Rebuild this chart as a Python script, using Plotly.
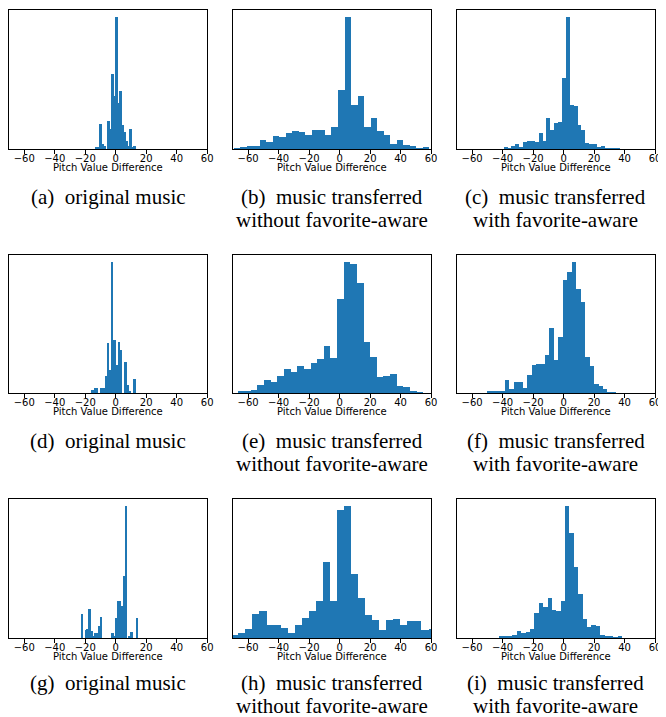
import plotly.graph_objects as go

# page body has an 8px margin; the figure is sized/positioned to compensate
PAGE_OFF = 8
W, H = 666 - PAGE_OFF, 717 - PAGE_OFF

# ---- data: histogram bins (start, width) and relative counts per panel ----
A_START, A_WIDTH = -13.0, 1.3
A_COUNTS = [1, 1, 19, 4, 2.5, 0, 21, 15, 57, 40, 100, 35, 44, 18, 12.6, 6, 2.5, 15, 1, 2.5]

B_START, B_WIDTH = -69.6, 4.28
B_COUNTS = [0.5, 1, 2.5, 2.5, 7, 5.5, 10, 9.3, 12.3, 13.9, 13.1, 10.8, 14.6, 14.6, 10.8,
            16.9, 44.8, 100, 33.5, 40, 16.9, 23.7, 13.9, 10.8, 4, 7, 3.3, 2.5, 0.5, 1.3]

C_START, C_WIDTH = -39.4, 2.55
C_COUNTS = [1, 0.5, 2, 4, 1.8, 5.5, 6.3, 6.3, 5.5, 12, 6.3, 23.7, 14.6, 19.6, 20.7,
            54, 100, 33.5, 32.7, 18.1, 14.6, 4.5, 4, 4, 1, 2, 0.5, 0.3, 0.3, 0.3]

D_START, D_WIDTH = -16.0, 1.45
D_COUNTS = [2.5, 4, 4, 0, 4, 4, 12.6, 38, 17.6, 100, 40.7, 21.4, 39, 32.7, 0, 23.6, 6.3, 1.3, 0, 11]

E_START, E_WIDTH = -67.0, 4.35
E_COUNTS = [1, 1, 2.5, 6.3, 10, 8, 13, 18.6, 16, 20.9, 18.6, 23.1, 25.9, 35.7, 26.9,
            71.4, 100, 98.5, 83.4, 38.7, 27.4, 11.8, 13, 14.3, 5, 4.3, 1, 0.3, 0, 0]

F_START, F_WIDTH = -50.3, 2.925
F_COUNTS = [0.8, 1.8, 1.3, 1.8, 10, 3.3, 8.5, 8, 4, 13.6, 21.4, 22.1, 22.1, 28.9, 49.2,
            25.1, 42.5, 86.2, 92.2, 100, 79.4, 69.1, 27.4, 20.6, 6.8, 5, 3.3, 0.3, 0.3]

G_START, G_WIDTH = -22.6, 1.25
G_COUNTS = [18.4, 0, 6.3, 7, 22.2, 5.5, 1.8, 4, 4, 9.3, 16.1, 0, 0, 0, 0, 0, 4, 1.8,
            15.4, 28.2, 28.2, 24.4, 47.1, 100, 0, 1.8, 4.8, 0, 0, 15.4]

H_START, H_WIDTH = -71.1, 4.62
H_COUNTS = [2.3, 4, 7, 18.4, 20.7, 10, 10, 7.8, 4, 10, 15.4, 20.7, 28.2, 57.7, 28.2,
            97, 100, 48.6, 30.5, 17.6, 13.9, 6.3, 13.9, 14.6, 10, 13.1, 13.1, 6.3, 7, 3]

I_START, I_WIDTH = -42.3, 2.88
I_COUNTS = [0.8, 0.8, 0.8, 2.5, 5.5, 3.5, 4.3, 7, 19.1, 26.7, 23.7, 30.5, 21.4, 20.7,
            28.2, 100, 79.6, 53.9, 33.5, 14.6, 8.6, 9.6, 9.3, 2.5, 1.8, 0.8, 0.3, 1]

SP = "\u2002"
CAPTIONS = [
    ["(a)" + SP + "original music"],
    ["(b)" + SP + "music transferred", "without favorite-aware"],
    ["(c)" + SP + "music transferred", "with favorite-aware"],
    ["(d)" + SP + "original music"],
    ["(e)" + SP + "music transferred", "without favorite-aware"],
    ["(f)" + SP + "music transferred", "with favorite-aware"],
    ["(g)" + SP + "original music"],
    ["(h)" + SP + "music transferred", "without favorite-aware"],
    ["(i)" + SP + "music transferred", "with favorite-aware"],
]
X_LABEL = "Pitch Value Difference"
TICK_VALS = [-60, -40, -20, 0, 20, 40, 60]
TICK_TEXT = ["\u221260", "\u221240", "\u221220", "0", "20", "40", "60"]

PANELS = [
    (A_START, A_WIDTH, A_COUNTS), (B_START, B_WIDTH, B_COUNTS), (C_START, C_WIDTH, C_COUNTS),
    (D_START, D_WIDTH, D_COUNTS), (E_START, E_WIDTH, E_COUNTS), (F_START, F_WIDTH, F_COUNTS),
    (G_START, G_WIDTH, G_COUNTS), (H_START, H_WIDTH, H_COUNTS), (I_START, I_WIDTH, I_COUNTS),
]

# ---- layout geometry (pixels in the reference window) ----
COL_X0 = [9, 235, 461]
PLOT_W = 200
ROW_Y = [(10, 149), (255, 393), (499, 638)]
XTITLE_OFF = 18.5
CAP_OFF = [[48, 71], [48, 71], [45, 68]]

BLUE = "#1f77b4"


def px(v):
    return v - PAGE_OFF


fig = go.Figure()
layout = dict(
    width=W, height=H, margin=dict(l=0, r=0, t=0, b=0),
    paper_bgcolor="white", plot_bgcolor="white", showlegend=False,
    bargap=0, annotations=[],
)

for idx, (start, width, counts) in enumerate(PANELS):
    r, c = divmod(idx, 3)
    n = idx + 1
    xa = "x" if n == 1 else f"x{n}"
    ya = "y" if n == 1 else f"y{n}"
    centers = [start + width * (k + 0.5) for k in range(len(counts))]
    fig.add_trace(go.Bar(
        x=centers, y=counts, width=[width] * len(counts),
        marker=dict(color=BLUE, line=dict(width=0)),
        xaxis=xa, yaxis=ya, hoverinfo="skip",
    ))
    x0 = px(COL_X0[c])
    top, bot = px(ROW_Y[r][0]), px(ROW_Y[r][1])
    ymax = max(counts) * 1.05
    layout["xaxis" if n == 1 else f"xaxis{n}"] = dict(
        domain=[x0 / W, (x0 + PLOT_W) / W], range=[-70, 60], anchor=ya,
        showgrid=False, zeroline=False, showline=True, mirror=True,
        linecolor="black", linewidth=1,
        ticks="outside", ticklen=3.5, tickwidth=0.8, tickcolor="black",
        tickvals=TICK_VALS, ticktext=TICK_TEXT, ticklabelstandoff=-4,
        tickfont=dict(family="DejaVu Sans", size=10, color="black"),
    )
    layout["yaxis" if n == 1 else f"yaxis{n}"] = dict(
        domain=[1 - bot / H, 1 - top / H], range=[0, ymax], anchor=xa,
        showgrid=False, zeroline=False, showline=True, mirror=True,
        linecolor="black", linewidth=1, showticklabels=False, ticks="",
    )
    cx = (x0 + PLOT_W / 2) / W
    layout["annotations"].append(dict(
        text=X_LABEL, x=cx, y=1 - (bot + XTITLE_OFF) / H, xref="paper", yref="paper",
        showarrow=False, xanchor="center", yanchor="middle",
        font=dict(family="DejaVu Sans", size=10, color="black"),
    ))
    for li, line in enumerate(CAPTIONS[idx]):
        layout["annotations"].append(dict(
            text=line, x=cx, y=1 - (bot + CAP_OFF[r][li]) / H, xref="paper", yref="paper",
            showarrow=False, xanchor="center", yanchor="middle",
            font=dict(family="Liberation Serif", size=21, color="black"),
        ))

fig.update_layout(**layout)
fig.write_html("out.html")
